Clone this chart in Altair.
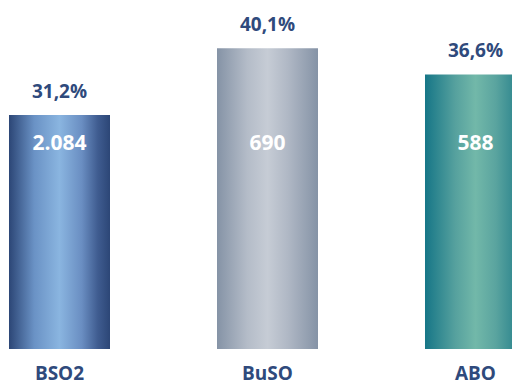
import altair as alt
import pandas as pd

categories = ["BSO2", "BuSO", "ABO"]
shares = [31.2, 40.1, 36.6]
share_labels = ["31,2%", "40,1%", "36,6%"]
counts = ["2.084", "690", "588"]

df = pd.DataFrame({
    "cat": categories,
    "share": shares,
    "share_label": share_labels,
    "count": counts,
})

gradients = {
    "BSO2": [(0, "#2C4676"), (0.25, "#6A92C5"), (0.5, "#8AB5E0"), (0.72, "#6A8EC2"), (0.88, "#3F5C90"), (1, "#2C4676")],
    "BuSO": [(0, "#8593A6"), (0.3, "#B4BCC8"), (0.5, "#C6CCD5"), (0.7, "#B0B8C5"), (1, "#8593A6")],
    "ABO": [(0, "#167687"), (0.3, "#56A19E"), (0.5, "#72B8A9"), (0.7, "#5AA49F"), (1, "#1A7886")],
}

xscale = alt.Scale(domain=categories, range=[-52.5, 571.5], paddingInner=0.5144, paddingOuter=0.2572)
yscale = alt.Scale(domain=[0, 45], range=[341, 3.5])

base = alt.Chart(df)
x_enc = alt.X("cat:N", scale=xscale, axis=None, sort=categories)

layers = []
for c in categories:
    grad = {
        "gradient": "linear", "x1": 0, "x2": 1, "y1": 0, "y2": 0,
        "stops": [{"offset": o, "color": col} for o, col in gradients[c]],
    }
    layers.append(
        base.transform_filter(alt.datum.cat == c)
        .mark_bar(color=grad, clip=True)
        .encode(x=x_enc, y=alt.Y("share:Q", scale=yscale, axis=None))
    )

font = "Open Sans"
navy = "#2F4A7C"

pct = base.mark_text(font=font, fontWeight="bold", fontSize=19, color=navy, baseline="middle", dy=-23.5).encode(
    x=x_enc, y=alt.Y("share:Q", scale=yscale, axis=None), text="share_label:N"
)
vals = base.mark_text(font=font, fontWeight="bold", fontSize=21, color="white", baseline="middle").encode(
    x=x_enc, y=alt.value(136), text="count:N"
)
cats = base.mark_text(font=font, fontWeight="bold", fontSize=19, color=navy, baseline="middle").encode(
    x=x_enc, y=alt.value(366), text="cat:N"
)

chart = alt.layer(*layers, pct, vals, cats).properties(
    width=504, height=377, padding=0, autosize="none"
).configure_view(stroke=None)

chart.save("out.html", embed_options={"renderer": "svg", "actions": False})
